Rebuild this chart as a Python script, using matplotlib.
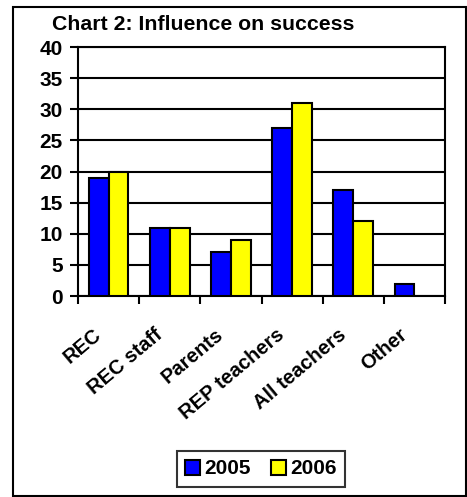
import matplotlib
matplotlib.use("Agg")
import matplotlib.pyplot as plt
import numpy as np
from matplotlib.patches import Rectangle

categories = ["REC", "REC staff", "Parents", "REP teachers", "All teachers", "Other"]
values_2005 = [19, 11, 7, 27, 17, 2]
values_2006 = [20, 11, 9, 31, 12, 0]
series_names = ["2005", "2006"]
y_ticks = [0, 5, 10, 15, 20, 25, 30, 35, 40]

plt.rcParams["font.family"] = ["Liberation Sans", "DejaVu Sans"]
plt.rcParams["font.weight"] = "bold"

fig = plt.figure(figsize=(4.67, 4.97), dpi=100)
ax = fig.add_axes([78 / 467, 1 - 296 / 497, 367 / 467, 249 / 497])

x = np.arange(len(categories))
w = 0.325
ax.bar(x - w / 2, values_2005, w, color="#0000FF", edgecolor="black", linewidth=1.5,
       label=series_names[0], zorder=3)
mask = [v > 0 for v in values_2006]
ax.bar(x[mask] + w / 2, np.array(values_2006)[mask], w, color="#FFFF00", edgecolor="black",
       linewidth=1.5, label=series_names[1], zorder=3)

ax.set_xlim(-0.5, len(categories) - 0.5)
ax.set_ylim(0, 40)
ax.set_yticks(y_ticks)
ax.set_yticklabels([str(t) for t in y_ticks], fontsize=15, fontweight="bold")
ax.yaxis.grid(True, color="black", linewidth=1.5, zorder=0)
ax.set_axisbelow(True)

# category boundary ticks
ax.set_xticks(np.arange(-0.5, len(categories)))
ax.set_xticklabels([])
ax.tick_params(axis="x", length=6, width=1.5, direction="out")
ax.tick_params(axis="y", length=6, width=1.5, direction="out", pad=5)
for i, c in enumerate(categories):
    ax.text(i - 0.26, -4.7, c, rotation=40, ha="right", va="top", rotation_mode="anchor",
            fontsize=14.5, fontweight="bold")

for s in ax.spines.values():
    s.set_linewidth(1.5)

fig.text(203 / 467, 1 - 25 / 497, "Chart 2: Influence on success", ha="center", va="center",
         fontsize=15.3, fontweight="bold")

leg = fig.legend(loc="center", bbox_to_anchor=(261 / 467, 1 - 469 / 497), ncol=2,
                 frameon=True, fancybox=False, edgecolor="black", fontsize=15,
                 handlelength=0.7, handleheight=0.7, handletextpad=0.2, columnspacing=1.0,
                 borderpad=0.4)
leg.get_frame().set_linewidth(1.5)
for t in leg.get_texts():
    t.set_fontweight("bold")

fig.patches.append(Rectangle((13 / 467, 1 / 497), 453 / 467, 489 / 497, transform=fig.transFigure,
                             fill=False, edgecolor="black", linewidth=1.5))

fig.savefig("out.png", dpi=100)
